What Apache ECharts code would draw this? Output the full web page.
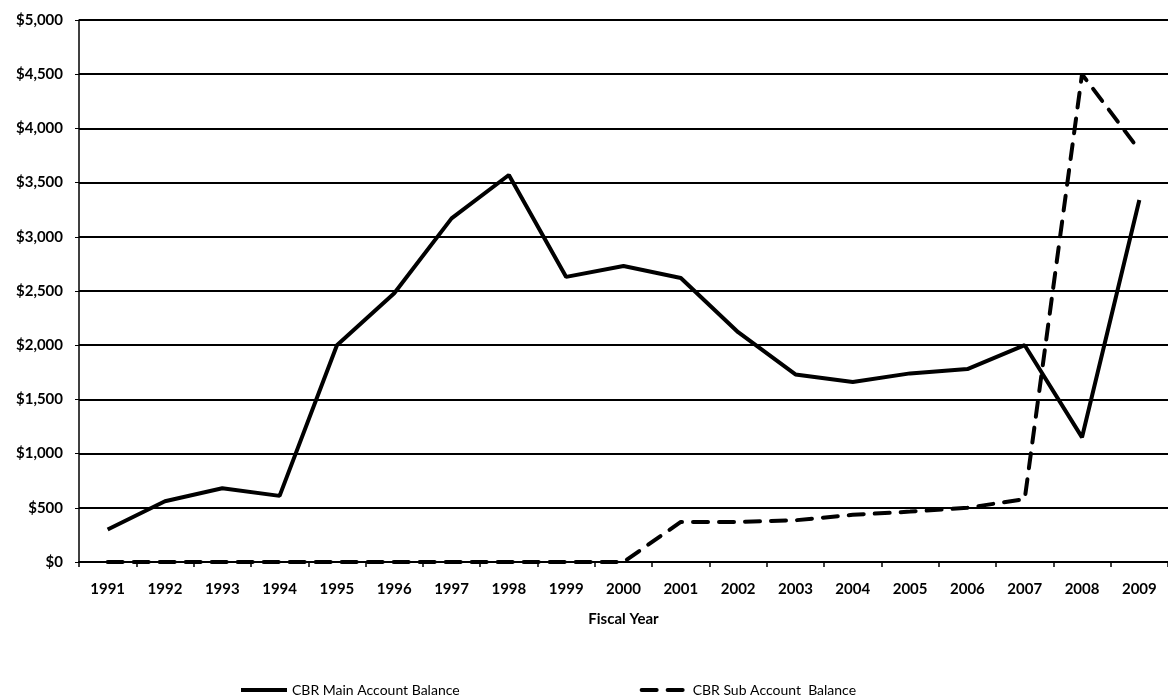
<!DOCTYPE html>
<html lang="en">
<head>
  <meta charset="UTF-8">
  <title>CBR Account Balance</title>
  <style>
    html, body { margin: 0; padding: 0; background: #fff; }
    #chart { width: 1168px; height: 698px; }
  </style>
  <script src="https://cdn.jsdelivr.net/npm/echarts@6/dist/echarts.min.js"></script>
</head>
<body>
<div id="chart"></div>
<script>
  const years = ['1991', '1992', '1993', '1994', '1995', '1996', '1997', '1998', '1999', '2000',
                 '2001', '2002', '2003', '2004', '2005', '2006', '2007', '2008', '2009'];
  const mainBalance = [300, 560, 680, 610, 2000, 2480, 3170, 3570, 2630, 2730,
                       2620, 2120, 1730, 1660, 1740, 1780, 2000, 1150, 3340];
  const subBalance = [0, 0, 0, 0, 0, 0, 0, 0, 0, 0,
                      370, 370, 385, 435, 465, 500, 580, 4500, 3800];

  const chart = echarts.init(document.getElementById('chart'));
  const font = 'Lato, "Open Sans", sans-serif';

  chart.setOption({
    animation: false,
    grid: { left: 79, right: -9, top: 20, bottom: 136 },
    legend: {
      top: 678,
      left: 234,
      itemGap: 180,
      itemWidth: 46,
      itemHeight: 10,
      itemStyle: { opacity: 0 },
      lineStyle: { width: 4, color: '#000' },
      textStyle: { fontFamily: font, fontSize: 14, color: '#000' },
      data: ['CBR Main Account Balance', 'CBR Sub Account  Balance']
    },
    xAxis: {
      type: 'category',
      data: years,
      boundaryGap: true,
      name: 'Fiscal Year',
      nameLocation: 'middle',
      nameGap: 50,
      nameTextStyle: { fontFamily: font, fontSize: 15, fontWeight: 'bold', color: '#000' },
      axisLine: { lineStyle: { color: '#000', width: 2 } },
      axisTick: { show: true, alignWithLabel: false, length: 5, lineStyle: { color: '#000', width: 1.5 } },
      axisLabel: { fontFamily: font, fontSize: 15, fontWeight: 'bold', color: '#000', margin: 20 }
    },
    yAxis: {
      type: 'value',
      min: 0,
      max: 5000,
      interval: 500,
      axisLine: { show: true, lineStyle: { color: '#000', width: 1.5 } },
      axisTick: { show: true, length: 4, lineStyle: { color: '#000' } },
      splitLine: { lineStyle: { color: '#000', width: 2 } },
      axisLabel: {
        fontFamily: font, fontSize: 15, fontWeight: 'bold', color: '#000', margin: 16,
        formatter: v => '$' + v.toLocaleString('en-US')
      }
    },
    series: [
      {
        name: 'CBR Main Account Balance',
        type: 'line',
        data: mainBalance,
        symbol: 'none',
        lineStyle: { color: '#000', width: 4 },
        itemStyle: { color: '#000' }
      },
      {
        name: 'CBR Sub Account  Balance',
        type: 'line',
        data: subBalance,
        symbol: 'none',
        lineStyle: { color: '#000', width: 4, type: [15, 11], cap: 'round' },
        itemStyle: { color: '#000' }
      }
    ]
  });
</script>
</body>
</html>
